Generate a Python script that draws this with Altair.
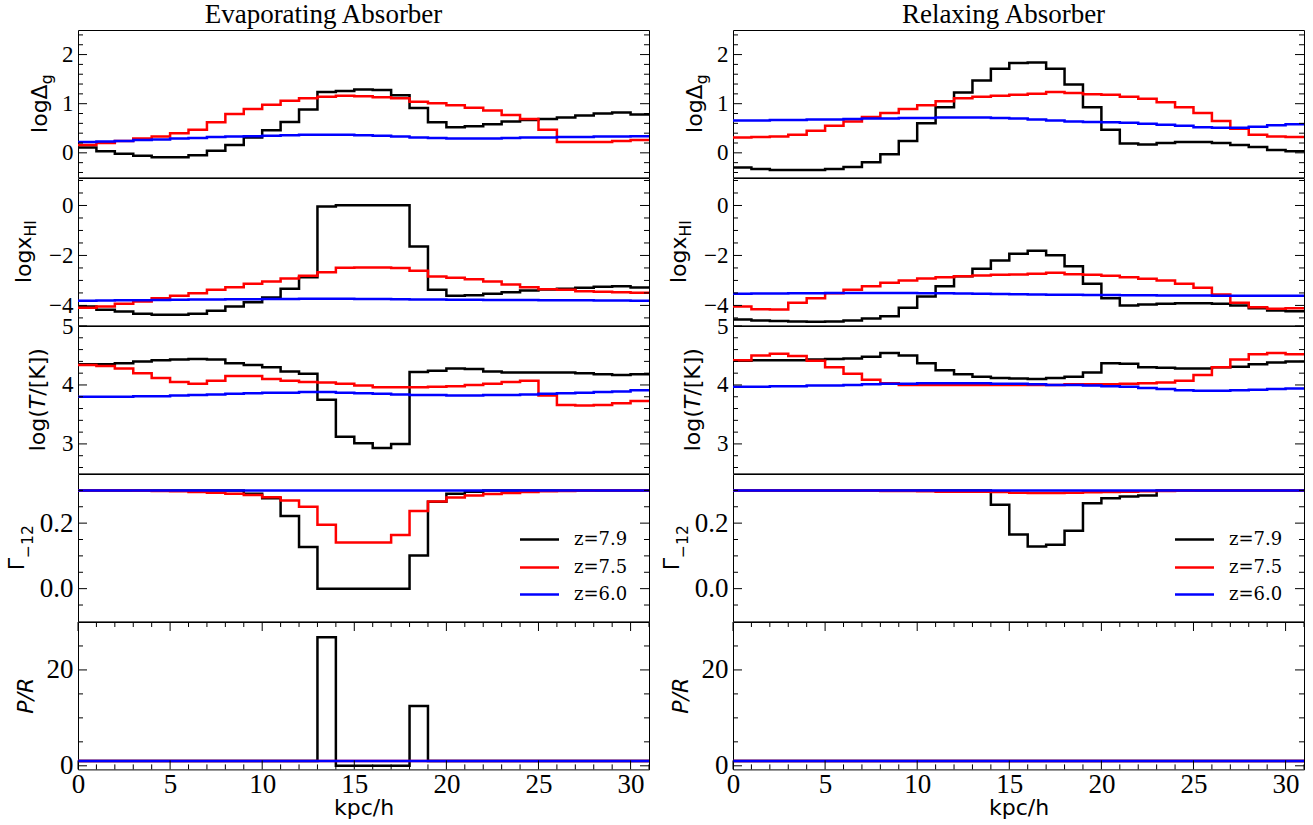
import altair as alt
import pandas as pd

# ---------------- data ----------------
X_EDGES = list(range(32))            # bin edges, kpc/h (31 bins of width 1)
SERIES = ["z=7.9", "z=7.5", "z=6.0"]
COLORS = ["#000000", "#ff0000", "#0000ff"]

# Evaporating absorber
ev_delta_k = [0.11, 0.03, -0.02, -0.06, -0.09, -0.09, -0.05, 0.04, 0.16, 0.31, 0.46, 0.63, 0.88, 1.24, 1.26, 1.29, 1.28, 1.17, 0.91, 0.62, 0.52, 0.54, 0.58, 0.64, 0.67, 0.69, 0.72, 0.76, 0.80, 0.82, 0.78]
ev_delta_r = [0.16, 0.20, 0.24, 0.29, 0.33, 0.40, 0.47, 0.62, 0.79, 0.89, 0.98, 1.06, 1.11, 1.14, 1.16, 1.15, 1.13, 1.11, 1.04, 1.01, 0.97, 0.92, 0.86, 0.77, 0.69, 0.47, 0.22, 0.22, 0.22, 0.24, 0.26]
ev_delta_b = [0.22, 0.23, 0.24, 0.26, 0.27, 0.29, 0.30, 0.32, 0.33, 0.34, 0.35, 0.36, 0.37, 0.37, 0.37, 0.36, 0.35, 0.33, 0.31, 0.30, 0.29, 0.29, 0.29, 0.30, 0.31, 0.31, 0.32, 0.32, 0.33, 0.33, 0.34]

ev_xhi_k = [-4.04, -4.17, -4.24, -4.33, -4.37, -4.37, -4.33, -4.21, -4.04, -3.87, -3.68, -3.33, -2.87, -0.04, 0.01, 0.01, 0.01, 0.01, -1.64, -3.37, -3.61, -3.59, -3.53, -3.47, -3.40, -3.36, -3.33, -3.29, -3.25, -3.23, -3.28]
ev_xhi_r = [-4.09, -4.04, -3.93, -3.84, -3.71, -3.61, -3.51, -3.37, -3.27, -3.13, -3.04, -2.92, -2.81, -2.67, -2.49, -2.48, -2.48, -2.50, -2.61, -2.84, -2.89, -2.95, -3.04, -3.16, -3.27, -3.35, -3.37, -3.43, -3.45, -3.47, -3.49]
ev_xhi_b = [-3.81, -3.80, -3.79, -3.79, -3.78, -3.77, -3.76, -3.76, -3.75, -3.75, -3.74, -3.74, -3.73, -3.73, -3.73, -3.74, -3.74, -3.75, -3.76, -3.76, -3.77, -3.77, -3.78, -3.78, -3.78, -3.79, -3.79, -3.79, -3.80, -3.80, -3.81]

ev_T_k = [4.35, 4.35, 4.37, 4.40, 4.42, 4.43, 4.44, 4.43, 4.37, 4.34, 4.30, 4.23, 4.19, 3.75, 3.12, 3.01, 2.93, 3.00, 4.22, 4.24, 4.28, 4.27, 4.23, 4.21, 4.21, 4.21, 4.21, 4.20, 4.18, 4.17, 4.18]
ev_T_r = [4.34, 4.32, 4.28, 4.20, 4.12, 4.05, 4.02, 4.07, 4.15, 4.15, 4.10, 4.07, 4.05, 4.04, 4.02, 3.99, 3.96, 3.96, 3.96, 3.97, 3.98, 4.00, 4.02, 4.05, 4.07, 3.82, 3.66, 3.65, 3.66, 3.69, 3.73]
ev_T_b = [3.80, 3.80, 3.80, 3.81, 3.81, 3.82, 3.83, 3.84, 3.85, 3.86, 3.87, 3.87, 3.88, 3.88, 3.87, 3.86, 3.85, 3.84, 3.83, 3.83, 3.82, 3.82, 3.83, 3.83, 3.84, 3.85, 3.86, 3.87, 3.88, 3.89, 3.91]

ev_G_k = [0.30, 0.30, 0.30, 0.30, 0.30, 0.30, 0.30, 0.30, 0.30, 0.29, 0.276, 0.222, 0.127, 0.0, 0.0, 0.0, 0.0, 0.0, 0.101, 0.265, 0.290, 0.296, 0.30, 0.30, 0.30, 0.30, 0.30, 0.30, 0.30, 0.30, 0.30]
ev_G_r = [0.30, 0.30, 0.30, 0.299, 0.298, 0.297, 0.295, 0.293, 0.290, 0.286, 0.279, 0.269, 0.250, 0.195, 0.141, 0.141, 0.141, 0.164, 0.237, 0.266, 0.278, 0.284, 0.289, 0.292, 0.295, 0.297, 0.298, 0.299, 0.30, 0.30, 0.30]
ev_G_b = [0.30, 0.30, 0.30, 0.30, 0.30, 0.30, 0.30, 0.30, 0.30, 0.30, 0.30, 0.30, 0.30, 0.30, 0.30, 0.30, 0.30, 0.30, 0.30, 0.30, 0.30, 0.30, 0.30, 0.30, 0.30, 0.30, 0.30, 0.30, 0.30, 0.30, 0.30]

ev_PR_k = [1, 1, 1, 1, 1, 1, 1, 1, 1, 1, 1, 1, 1, 26.8, 0, 0, 0, 0, 12.5, 1, 1, 1, 1, 1, 1, 1, 1, 1, 1, 1, 1]
ev_PR_r = [1, 1, 1, 1, 1, 1, 1, 1, 1, 1, 1, 1, 1, 1, 1, 1, 1, 1, 1, 1, 1, 1, 1, 1, 1, 1, 1, 1, 1, 1, 1]
ev_PR_b = [1, 1, 1, 1, 1, 1, 1, 1, 1, 1, 1, 1, 1, 1, 1, 1, 1, 1, 1, 1, 1, 1, 1, 1, 1, 1, 1, 1, 1, 1, 1]

# Relaxing absorber
rx_delta_k = [-0.30, -0.33, -0.35, -0.35, -0.35, -0.33, -0.29, -0.19, -0.03, 0.24, 0.60, 0.93, 1.23, 1.47, 1.71, 1.83, 1.84, 1.71, 1.39, 0.93, 0.47, 0.19, 0.17, 0.20, 0.22, 0.22, 0.20, 0.16, 0.12, 0.06, 0.03]
rx_delta_r = [0.31, 0.32, 0.33, 0.37, 0.45, 0.55, 0.64, 0.73, 0.81, 0.89, 0.97, 1.05, 1.11, 1.14, 1.16, 1.18, 1.20, 1.24, 1.22, 1.19, 1.18, 1.14, 1.10, 1.03, 0.93, 0.81, 0.65, 0.49, 0.37, 0.33, 0.32]
rx_delta_b = [0.66, 0.66, 0.67, 0.67, 0.68, 0.68, 0.69, 0.70, 0.70, 0.71, 0.71, 0.72, 0.72, 0.72, 0.71, 0.70, 0.68, 0.66, 0.64, 0.63, 0.62, 0.61, 0.59, 0.57, 0.55, 0.52, 0.51, 0.51, 0.53, 0.56, 0.58]

rx_xhi_k = [-4.56, -4.60, -4.62, -4.64, -4.65, -4.64, -4.60, -4.52, -4.43, -4.09, -3.64, -3.23, -2.83, -2.53, -2.20, -1.93, -1.81, -1.99, -2.43, -3.13, -3.71, -4.00, -3.96, -3.93, -3.91, -3.91, -3.93, -4.00, -4.11, -4.20, -4.23]
rx_xhi_r = [-4.04, -4.15, -4.16, -3.89, -3.71, -3.51, -3.37, -3.23, -3.09, -3.00, -2.92, -2.87, -2.83, -2.80, -2.77, -2.76, -2.73, -2.69, -2.75, -2.77, -2.81, -2.87, -2.93, -3.00, -3.13, -3.29, -3.56, -3.89, -4.07, -4.13, -4.11]
rx_xhi_b = [-3.53, -3.52, -3.52, -3.51, -3.51, -3.50, -3.50, -3.50, -3.50, -3.50, -3.51, -3.51, -3.52, -3.53, -3.54, -3.55, -3.56, -3.57, -3.57, -3.58, -3.58, -3.59, -3.59, -3.60, -3.60, -3.60, -3.61, -3.61, -3.61, -3.61, -3.61]

rx_T_k = [4.41, 4.42, 4.42, 4.42, 4.43, 4.44, 4.45, 4.48, 4.54, 4.50, 4.37, 4.25, 4.18, 4.14, 4.12, 4.11, 4.10, 4.12, 4.14, 4.21, 4.37, 4.36, 4.30, 4.29, 4.28, 4.28, 4.30, 4.31, 4.35, 4.38, 4.40]
rx_T_r = [4.42, 4.50, 4.53, 4.49, 4.41, 4.30, 4.19, 4.09, 4.03, 4.00, 4.00, 4.00, 4.00, 4.00, 4.00, 4.00, 4.00, 4.00, 4.01, 4.01, 4.01, 4.02, 4.03, 4.04, 4.07, 4.17, 4.30, 4.43, 4.52, 4.54, 4.52]
rx_T_b = [3.97, 3.97, 3.98, 3.98, 3.99, 3.99, 4.00, 4.01, 4.02, 4.02, 4.03, 4.03, 4.03, 4.03, 4.02, 4.02, 4.01, 4.00, 4.00, 3.99, 3.98, 3.97, 3.95, 3.93, 3.91, 3.90, 3.90, 3.91, 3.92, 3.93, 3.94]

rx_G_k = [0.30, 0.30, 0.30, 0.30, 0.30, 0.30, 0.30, 0.30, 0.30, 0.30, 0.30, 0.30, 0.30, 0.30, 0.256, 0.165, 0.129, 0.134, 0.177, 0.261, 0.276, 0.281, 0.284, 0.30, 0.30, 0.30, 0.30, 0.30, 0.30, 0.30, 0.30]
rx_G_r = [0.30, 0.30, 0.30, 0.30, 0.30, 0.30, 0.30, 0.299, 0.298, 0.298, 0.297, 0.296, 0.296, 0.296, 0.295, 0.293, 0.292, 0.292, 0.293, 0.294, 0.295, 0.296, 0.297, 0.298, 0.299, 0.30, 0.30, 0.30, 0.30, 0.30, 0.30]
rx_G_b = [0.30, 0.30, 0.30, 0.30, 0.30, 0.30, 0.30, 0.30, 0.30, 0.30, 0.30, 0.30, 0.30, 0.30, 0.30, 0.30, 0.30, 0.30, 0.30, 0.30, 0.30, 0.30, 0.30, 0.30, 0.30, 0.30, 0.30, 0.30, 0.30, 0.30, 0.30]

rx_PR_k = [1, 1, 1, 1, 1, 1, 1, 1, 1, 1, 1, 1, 1, 1, 1, 1, 1, 1, 1, 1, 1, 1, 1, 1, 1, 1, 1, 1, 1, 1, 1]
rx_PR_r = [1, 1, 1, 1, 1, 1, 1, 1, 1, 1, 1, 1, 1, 1, 1, 1, 1, 1, 1, 1, 1, 1, 1, 1, 1, 1, 1, 1, 1, 1, 1]
rx_PR_b = [1, 1, 1, 1, 1, 1, 1, 1, 1, 1, 1, 1, 1, 1, 1, 1, 1, 1, 1, 1, 1, 1, 1, 1, 1, 1, 1, 1, 1, 1, 1]

# axis tick values
X_MAJOR = [0, 5, 10, 15, 20, 25, 30]
X_MINOR = [1, 2, 3, 4, 6, 7, 8, 9, 11, 12, 13, 14, 16, 17, 18, 19, 21, 22, 23, 24, 26, 27, 28, 29, 31]

ROWS = [
    dict(dom=[-0.5, 2.5], maj=[0, 1, 2],
         mnr=[-0.4, -0.2, 0.2, 0.4, 0.6, 0.8, 1.2, 1.4, 1.6, 1.8, 2.2, 2.4], fmt="d", lfs=23),
    dict(dom=[-4.8, 1.1], maj=[-4, -2, 0],
         mnr=[-4.5, -3.5, -3.0, -2.5, -1.5, -1.0, -0.5, 0.5, 1.0], fmt="d", lfs=23),
    dict(dom=[2.5, 5.0], maj=[3, 4, 5],
         mnr=[2.6, 2.8, 3.2, 3.4, 3.6, 3.8, 4.2, 4.4, 4.6, 4.8], fmt="d", lfs=23),
    dict(dom=[-0.1, 0.35], maj=[0.0, 0.2],
         mnr=[-0.05, 0.05, 0.1, 0.15, 0.25, 0.3], fmt=".1f", lfs=27),
    dict(dom=[-0.75, 30], maj=[0, 20], mnr=[5, 10, 15, 25], fmt="d", lfs=27),
]

# y-axis title pieces: (text, font size, style, baseline x offset)
TITLES = [
    [("logΔ", 22, "normal", -31), ("g", 15.5, "normal", -26)],
    [("logx", 22, "normal", -47.5), ("HI", 15.5, "normal", -42.5)],
    [("log(", 22, "normal", -33), ("T", 22, "italic", -33), ("/[K])", 22, "normal", -33)],
    [("Γ", 22, "normal", -54), ("−12", 15.5, "normal", -45)],
    [("P/R", 22, "italic", -45)],
]

CHARW = {'l': .278, 'o': .612, 'g': .635, 'x': .592, 'Δ': .684, '(': .390, ')': .390,
         'T': .611, '/': .337, '[': .390, ']': .390, 'K': .656, 'Γ': .557, '−': .838,
         '1': .636, '2': .636, 'H': .752, 'I': .295, 'P': .603, 'R': .695}

SERIF = "Liberation Serif"
LEG_FONT = "DejaVu Serif"
SANS = "DejaVu Sans"
W, H = 571, 147.4
LINE_W = 2.5
MAJ_LEN, MIN_LEN = 9, 5
# legend placement inside the Γ panels (pixels from the panel's top-left)
LEG_X0, LEG_X1, LEG_TX = 442, 481, 496
LEG_Y = [65.5, 93.5, 120.5]


def series_frame(vals):
    rows = []
    for name, v in zip(SERIES, vals):
        ext = list(v) + [v[-1]]
        for xe, val in zip(X_EDGES, ext):
            rows.append({"x": xe, "v": val, "z": name})
    return pd.DataFrame(rows)


def text_width(s, size):
    return sum(CHARW.get(c, 0.6) for c in s) * size


def one_row():
    return alt.Data(values=[{"k": 1}])


def make_panel(vals, row, tparts, bottom=False, legend=False, title=None):
    df = series_frame(vals)
    if bottom:
        xaxis = alt.Axis(values=X_MAJOR, format="d", ticks=False, domain=False, grid=False,
                         labelFont=SERIF, labelFontSize=27, labelPadding=2, labelFlush=False,
                         labelColor="black", title="kpc/h", titleFont=SANS, titleFontSize=22,
                         titleFontWeight="normal", titlePadding=0, titleColor="black")
    else:
        xaxis = None
    x_enc = alt.X("x:Q", scale=alt.Scale(domain=[0, 31], nice=False, zero=False), axis=xaxis)
    yaxis = alt.Axis(values=row["maj"], format=row["fmt"], ticks=False, domain=False, grid=False,
                     labelFont=SERIF, labelFontSize=row["lfs"], labelPadding=5, labelColor="black",
                     labelOverlap=False, title=None)
    y_enc = alt.Y("v:Q", scale=alt.Scale(domain=row["dom"], nice=False, zero=False), axis=yaxis)
    cscale = alt.Scale(domain=SERIES, range=COLORS)

    layers = []
    for name in SERIES:
        layers.append(
            alt.Chart(df).transform_filter(alt.datum.z == name)
            .mark_line(interpolate="step-after", strokeWidth=LINE_W, clip=True)
            .encode(x=x_enc, y=y_enc, color=alt.Color("z:N", scale=cscale, legend=None))
        )
    # inward y ticks, both sides
    for tv, ln in ((row["maj"], MAJ_LEN), (row["mnr"], MIN_LEN)):
        tdf = pd.DataFrame({"v": tv})
        layers.append(alt.Chart(tdf).mark_rule(color="black", strokeWidth=1)
                      .encode(y=y_enc, x=alt.value(0), x2=alt.value(ln)))
        layers.append(alt.Chart(tdf).mark_rule(color="black", strokeWidth=1)
                      .encode(y=y_enc, x=alt.value(W - ln), x2=alt.value(W)))
    # inward x ticks on the bottom panel (top and bottom edge)
    if bottom:
        for tv, ln in ((X_MAJOR, MAJ_LEN), (X_MINOR, MIN_LEN)):
            tdf = pd.DataFrame({"x": tv})
            layers.append(alt.Chart(tdf).mark_rule(color="black", strokeWidth=1)
                          .encode(x=x_enc, y=alt.value(0), y2=alt.value(ln)))
            layers.append(alt.Chart(tdf).mark_rule(color="black", strokeWidth=1)
                          .encode(x=x_enc, y=alt.value(H - ln), y2=alt.value(H)))
    # legend (line sample + serif label)
    if legend:
        for name, col, ly in zip(SERIES, COLORS, LEG_Y):
            layers.append(alt.Chart(one_row()).mark_rule(color=col, strokeWidth=LINE_W)
                          .encode(x=alt.value(LEG_X0), x2=alt.value(LEG_X1), y=alt.value(ly)))
            layers.append(alt.Chart(one_row())
                          .mark_text(text=name, align="left", baseline="middle", font=LEG_FONT,
                                     fontSize=18, color="black")
                          .encode(x=alt.value(LEG_TX), y=alt.value(ly)))
    # rotated y-axis title made of pieces (for subscripts / italics)
    total = sum(text_width(t, s) for t, s, _, _ in tparts)
    ystart = H / 2 + total / 2
    acc = 0.0
    for t, s, st, xo in tparts:
        layers.append(
            alt.Chart(one_row())
            .mark_text(text=t, angle=270, align="left", baseline="alphabetic", font=SANS,
                       fontSize=s, fontStyle=st, color="black")
            .encode(x=alt.value(xo), y=alt.value(ystart - acc))
        )
        acc += text_width(t, s)

    props = dict(width=W, height=H)
    if title is not None:
        props["title"] = title
    return alt.layer(*layers).properties(**props)


def column(data_rows, title_text, title_dx):
    panels = []
    for i, vals in enumerate(data_rows):
        ttl = None
        if i == 0:
            ttl = alt.TitleParams(title_text, font=SERIF, fontSize=27, fontWeight="normal",
                                  color="black", anchor="middle", frame="group", offset=1,
                                  dx=title_dx)
        panels.append(make_panel(vals, ROWS[i], TITLES[i], bottom=(i == 4),
                                 legend=(i == 3), title=ttl))
    return panels


left = column([(ev_delta_k, ev_delta_r, ev_delta_b),
               (ev_xhi_k, ev_xhi_r, ev_xhi_b),
               (ev_T_k, ev_T_r, ev_T_b),
               (ev_G_k, ev_G_r, ev_G_b),
               (ev_PR_k, ev_PR_r, ev_PR_b)], "Evaporating Absorber", -40)
right = column([(rx_delta_k, rx_delta_r, rx_delta_b),
                (rx_xhi_k, rx_xhi_r, rx_xhi_b),
                (rx_T_k, rx_T_r, rx_T_b),
                (rx_G_k, rx_G_r, rx_G_b),
                (rx_PR_k, rx_PR_r, rx_PR_b)], "Relaxing Absorber", -15)

cells = []
for a, b in zip(left, right):
    cells.extend([a, b])

chart = (
    alt.concat(*cells, columns=2, spacing={"row": 0, "column": 84}, bounds="flush")
    .configure_view(stroke="black", strokeWidth=1)
    .properties(padding={"left": 5, "top": 0, "right": 5, "bottom": 5}, background="white")
)

chart.save("out.html", embed_options={"renderer": "svg", "actions": False})
